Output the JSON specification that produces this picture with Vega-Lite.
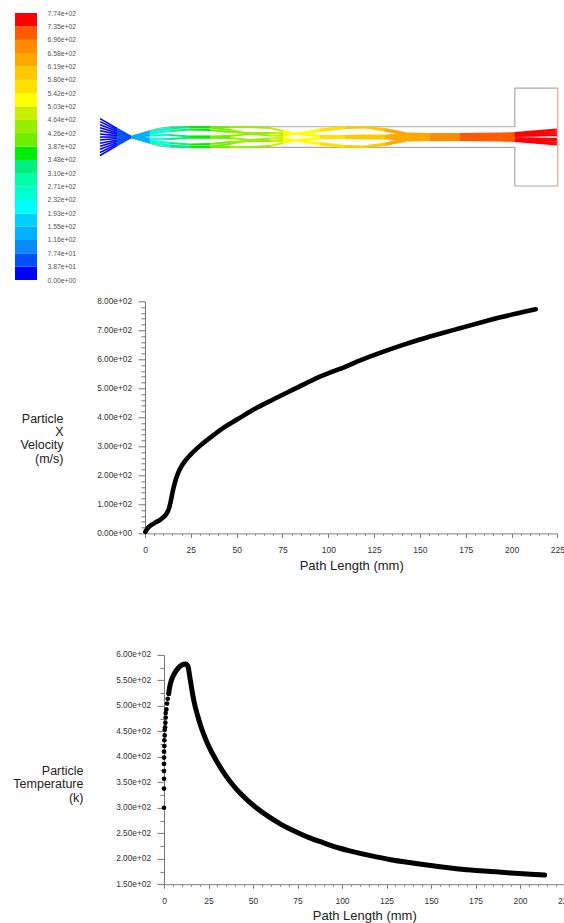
{
"$schema":"https://vega.github.io/schema/vega-lite/v6.json",
"padding":{"left":0,"top":10,"right":0,"bottom":0},
"background":"white",
"config":{"view":{"stroke":null},"font":"Liberation Sans","axis":{"labelFont":"Liberation Sans","titleFont":"Liberation Sans","grid":false}},
"datasets":{
"spacer":[{"s":1}],
"bands":[
{"v":0,"hi":38.7},{"v":38.7,"hi":77.4},{"v":77.4,"hi":116},{"v":116,"hi":155},{"v":155,"hi":193},{"v":193,"hi":232},{"v":232,"hi":271},{"v":271,"hi":310},{"v":310,"hi":348},{"v":348,"hi":387},{"v":387,"hi":426},{"v":426,"hi":464},{"v":464,"hi":503},{"v":503,"hi":542},{"v":542,"hi":580},{"v":580,"hi":619},{"v":619,"hi":658},{"v":658,"hi":696},{"v":696,"hi":735},{"v":735,"hi":774}],
"fan":[
{"x":0,"v":20,"a":8.6,"b":7.2,"c":5.7,"d":4.3,"e":2.9,"f":1.4,"g":0,"h":-1.4,"i":-2.9,"j":-4.3,"k":-5.7,"l":-7.2,"m":-8.6},
{"x":7.9,"v":60,"a":4.0,"b":3.35,"c":2.66,"d":2.0,"e":1.35,"f":0.65,"g":0,"h":-0.65,"i":-1.35,"j":-2.0,"k":-2.66,"l":-3.35,"m":-4.0},
{"x":14.8,"v":100,"a":0,"b":0,"c":0,"d":0,"e":0,"f":0,"g":0,"h":0,"i":0,"j":0,"k":0,"l":0,"m":0}],
"rays":[
{"x":14.8,"v":125,"a":0,"b":0,"c":0,"d":0,"e":0,"f":0,"g":0,"h":0},
{"x":23.3,"v":262,"a":2.33,"b":2.56,"c":1.63,"d":0.7,"e":-2.33,"f":-2.56,"g":-1.63,"h":-0.7},
{"x":32.6,"v":315,"a":3.96,"b":4.19,"c":2.8,"d":0.93,"e":-3.96,"f":-4.19,"g":-2.8,"h":-0.93},
{"x":41.9,"v":355,"a":4.66,"b":4.66,"c":3.5,"d":0.3,"e":-4.66,"f":-4.66,"g":-3.5,"h":-0.3},
{"x":51.3,"v":397,"a":4.43,"b":4.66,"c":3.26,"d":0.3,"e":-4.43,"f":-4.66,"g":-3.26,"h":-0.3},
{"x":60.6,"v":430,"a":3.26,"b":4.66,"c":2.33,"d":0.47,"e":-3.26,"f":-4.66,"g":-2.33,"h":-0.47},
{"x":69.9,"v":462,"a":1.4,"b":4.66,"c":1.86,"d":1.4,"e":-1.4,"f":-4.66,"g":-1.86,"h":-1.4},
{"x":79.2,"v":492,"a":0.7,"b":4.19,"c":1.86,"d":1.86,"e":-0.7,"f":-4.19,"g":-1.86,"h":-1.86},
{"x":85.3,"v":510,"a":0.47,"b":2.8,"c":1.4,"d":1.86,"e":-0.47,"f":-2.8,"g":-1.4,"h":-1.86},
{"x":93.2,"v":532,"a":1.86,"b":1.17,"c":1.4,"d":1.4,"e":-1.86,"f":-1.17,"g":-1.4,"h":-1.4},
{"x":102.5,"v":558,"a":3.5,"b":0.47,"c":2.8,"d":0.47,"e":-3.5,"f":-0.47,"g":-2.8,"h":-0.47},
{"x":114.2,"v":588,"a":4.66,"b":0.47,"c":4.19,"d":0.2,"e":-4.66,"f":-0.47,"g":-4.19,"h":-0.2},
{"x":123.5,"v":612,"a":4.66,"b":0.7,"c":4.43,"d":0.2,"e":-4.66,"f":-0.7,"g":-4.43,"h":-0.2},
{"x":132.8,"v":633,"a":3.73,"b":0.7,"c":3.03,"d":0.2,"e":-3.73,"f":-0.7,"g":-3.03,"h":-0.2},
{"x":143,"v":655,"a":1.63,"b":1.2,"c":0.8,"d":0.4,"e":-1.63,"f":-1.2,"g":-0.8,"h":-0.4},
{"x":153.8,"v":675,"a":1.4,"b":1.05,"c":0.7,"d":0.35,"e":-1.4,"f":-1.05,"g":-0.7,"h":-0.35},
{"x":167.7,"v":700,"a":1.4,"b":1.05,"c":0.7,"d":0.35,"e":-1.4,"f":-1.05,"g":-0.7,"h":-0.35},
{"x":186.3,"v":733,"a":1.63,"b":1.2,"c":0.8,"d":0.4,"e":-1.63,"f":-1.2,"g":-0.8,"h":-0.4},
{"x":193.3,"v":747,"a":1.86,"b":1.4,"c":0.93,"d":0.47,"e":-1.86,"f":-1.4,"g":-0.93,"h":-0.47},
{"x":212.9,"v":772,"a":3.5,"b":2.6,"c":1.7,"d":0.85,"e":-3.5,"f":-2.6,"g":-1.7,"h":-0.85}],
"walls":[
{"w":"top","o":0,"x":14.8,"r":0.5},{"w":"top","o":1,"x":18.7,"r":1.6},{"w":"top","o":2,"x":23.3,"r":3.0},{"w":"top","o":3,"x":28,"r":4.2},{"w":"top","o":4,"x":32.6,"r":4.7},{"w":"top","o":5,"x":37,"r":4.8},{"w":"top","o":6,"x":193.3,"r":4.8},{"w":"top","o":7,"x":193.3,"r":22.8},{"w":"top","o":8,"x":213.3,"r":22.8},
{"w":"bottom","o":0,"x":14.8,"r":-0.5},{"w":"bottom","o":1,"x":18.7,"r":-1.6},{"w":"bottom","o":2,"x":23.3,"r":-3.0},{"w":"bottom","o":3,"x":28,"r":-4.2},{"w":"bottom","o":4,"x":32.6,"r":-4.7},{"w":"bottom","o":5,"x":37,"r":-4.8},{"w":"bottom","o":6,"x":193.3,"r":-4.8},{"w":"bottom","o":7,"x":193.3,"r":-22.8},{"w":"bottom","o":8,"x":213.3,"r":-22.8}],
"outlet":[{"w":"exit","o":0,"x":213.3,"r":22.8},{"w":"exit","o":1,"x":213.3,"r":-22.8}],
"velocity":[
{"x":0.2,"y":5.5},{"x":1.66,"y":19},{"x":4.9,"y":34.5},{"x":8.6,"y":48},{"x":11.5,"y":65.5},{"x":13.1,"y":86},{"x":14,"y":109},{"x":14.9,"y":138},{"x":16.2,"y":172},{"x":18,"y":207},{"x":20.9,"y":241},{"x":25,"y":272},{"x":30.4,"y":304},{"x":37.7,"y":340},{"x":43.1,"y":365},{"x":50.4,"y":393},{"x":59.5,"y":428},{"x":70.4,"y":463},{"x":81.3,"y":497},{"x":92.2,"y":531},{"x":103,"y":559},{"x":106.8,"y":568},{"x":117.7,"y":597},{"x":128.6,"y":623},{"x":139.6,"y":647},{"x":150.5,"y":669},{"x":161.4,"y":689},{"x":172.3,"y":708},{"x":183.2,"y":727},{"x":194,"y":745},{"x":205,"y":761},{"x":213.2,"y":772.5}],
"tdots":[
{"x":0,"y":300},{"x":0,"y":337.6},{"x":0,"y":357},{"x":0,"y":372},{"x":0,"y":386},{"x":0.02,"y":398.5},{"x":0.02,"y":410},{"x":0.2,"y":421},{"x":0.2,"y":432.5},{"x":0.4,"y":442},{"x":0.4,"y":453},{"x":0.58,"y":458},{"x":0.77,"y":467},{"x":0.95,"y":477},{"x":0.95,"y":486},{"x":1.33,"y":493},{"x":1.7,"y":504.5},{"x":2.08,"y":514},{"x":2.64,"y":524}],
"tcurve":[
{"x":2.64,"y":524},{"x":3.2,"y":537},{"x":4.33,"y":552},{"x":5.8,"y":563},{"x":7.7,"y":573},{"x":10,"y":580},{"x":12.2,"y":582},{"x":13.5,"y":577},{"x":14.4,"y":559},{"x":15.6,"y":533},{"x":16.9,"y":508},{"x":18.7,"y":483},{"x":20.6,"y":461},{"x":23.4,"y":434.5},{"x":26.2,"y":413},{"x":30,"y":389},{"x":34.7,"y":363},{"x":40.3,"y":338},{"x":45.9,"y":318},{"x":51.5,"y":301},{"x":59,"y":282},{"x":66.5,"y":266},{"x":74,"y":253},{"x":81.5,"y":241.5},{"x":89,"y":232},{"x":98.3,"y":221},{"x":104.9,"y":215},{"x":116,"y":206},{"x":127.4,"y":198},{"x":138.6,"y":192},{"x":149.8,"y":186.6},{"x":161,"y":182},{"x":172.3,"y":178},{"x":183.5,"y":175},{"x":194.8,"y":172},{"x":206,"y":169.5},{"x":213.9,"y":168}]
},
"vconcat":[
{"hconcat":[
 {"width":15,"height":1,"data":{"name":"spacer"},"mark":{"type":"rect","opacity":0}},
 {"width":22,"height":267,"data":{"name":"bands"},"mark":{"type":"rect"},
  "encoding":{
   "y":{"field":"v","type":"quantitative","scale":{"domain":[0,774],"nice":false,"zero":false},
    "axis":{"orient":"right","title":null,"domain":false,"ticks":false,"labelPadding":10,"labelFontSize":6.8,"labelColor":"#555","labelOverlap":false,"labelFlush":false,
     "values":[0,38.7,77.4,116,155,193,232,271,310,348,387,426,464,503,542,580,619,658,696,735,774],
     "labelExpr":"replace(format(datum.value,'.2e'),'e+','e+0')"}},
   "y2":{"field":"hi"},
   "color":{"field":"v","type":"quantitative","legend":null,"scale":{"type":"threshold","domain":[38.7,77.4,116,155,193,232,271,310,348,387,426,464,503,542,580,619,658,696,735],"range":["#0000ff","#0050ff","#0a8aff","#00b0ff","#00d0ff","#00ffff","#00ffd0","#00ffa8","#00f080","#00ee00","#70ee00","#98ee00","#c8ee00","#ffff00","#ffe000","#ffc800","#ffa800","#ff8c00","#ff5a00","#ff0000"]}}
  }},
 {"width":63,"height":1,"data":{"name":"spacer"},"mark":{"type":"rect","opacity":0}},
 {"width":458,"height":267,
  "layer":[
   {"data":{"name":"walls"},"mark":{"type":"line","color":"#aaaaaa","strokeWidth":1.2},
    "encoding":{"x":{"field":"x","type":"quantitative","scale":{"domain":[0,213.4],"nice":false,"zero":false},"axis":null},
     "y":{"field":"r","type":"quantitative","scale":{"domain":[-66.6,57.8],"nice":false,"zero":false},"axis":null},
     "detail":{"field":"w"},"order":{"field":"o"}}},
   {"data":{"name":"outlet"},"mark":{"type":"line","color":"#ee8888","strokeWidth":1},
    "encoding":{"x":{"field":"x","type":"quantitative"},"y":{"field":"r","type":"quantitative"},"order":{"field":"o"}}},
   {"data":{"name":"fan"},
    "transform":[{"fold":["a","b","c","d","e","f","g","h","i","j","k","l","m"],"as":["ray","r"]},
     {"window":[{"op":"lead","field":"x","as":"xn"},{"op":"lead","field":"r","as":"rn"}],"sort":[{"field":"x"}],"groupby":["ray"]},
     {"filter":"isValid(datum.xn)"}],
    "mark":{"type":"rule","strokeWidth":1.6},
    "encoding":{"x":{"field":"x","type":"quantitative"},"x2":{"field":"xn"},"y":{"field":"r","type":"quantitative"},"y2":{"field":"rn"},
     "color":{"field":"v","type":"quantitative","legend":null,"scale":{"type":"threshold","domain":[38.7,77.4,116,155,193,232,271,310,348,387,426,464,503,542,580,619,658,696,735],"range":["#2010d8","#0050ff","#0a8aff","#00b0ff","#00d0ff","#00ffff","#00ffd0","#00ffa8","#00f080","#00ee00","#70ee00","#98ee00","#c8ee00","#ffff00","#ffe000","#ffc800","#ffa800","#ff8c00","#ff5a00","#ff0000"]}}}},
   {"data":{"name":"rays"},
    "transform":[{"fold":["a","b","c","d","e","f","g","h"],"as":["ray","r"]},
     {"window":[{"op":"lead","field":"x","as":"xn"},{"op":"lead","field":"r","as":"rn"}],"sort":[{"field":"x"}],"groupby":["ray"]},
     {"filter":"isValid(datum.xn)"}],
    "mark":{"type":"rule","strokeWidth":2},
    "encoding":{"x":{"field":"x","type":"quantitative"},"x2":{"field":"xn"},"y":{"field":"r","type":"quantitative"},"y2":{"field":"rn"},
     "color":{"field":"v","type":"quantitative","legend":null,"scale":{"type":"threshold","domain":[38.7,77.4,116,155,193,232,271,310,348,387,426,464,503,542,580,619,658,696,735],"range":["#2010d8","#0050ff","#0a8aff","#00b0ff","#00d0ff","#00ffff","#00ffd0","#00ffa8","#00f080","#00ee00","#70ee00","#98ee00","#c8ee00","#ffff00","#ffe000","#ffc800","#ffa800","#ff8c00","#ff5a00","#ff0000"]}}}}
  ]}
],"spacing":0,"bounds":"flush","center":false},
{"hconcat":[
 {"width":144.3,"height":1,"data":{"name":"spacer"},"mark":{"type":"rect","opacity":0}},
 {"width":412.4,"height":232,"data":{"name":"velocity"},
  "mark":{"type":"line","color":"black","strokeWidth":4.6,"interpolate":"monotone","strokeCap":"round","strokeJoin":"round"},
  "encoding":{
   "x":{"field":"x","type":"quantitative","scale":{"domain":[0,225],"nice":false,"zero":false},
    "axis":{"title":"Path Length (mm)","titleFontSize":13,"titleFontWeight":"normal","titleColor":"#222","titleY":36,"titleBaseline":"alphabetic",
     "values":[0,5,10,15,20,25,30,35,40,45,50,55,60,65,70,75,80,85,90,95,100,105,110,115,120,125,130,135,140,145,150,155,160,165,170,175,180,185,190,195,200,205,210,215,220,225],
     "labelExpr":"datum.value % 25 === 0 ? datum.value : ''","labelFontSize":8.5,"labelColor":"#333","labelPadding":8,"labelOverlap":false,"labelFlush":false,"domainColor":"#999","domainWidth":1.2,"tickColor":"#777",
     "tickSize":{"expr":"datum.value % 25 === 0 ? 4 : 2"}}},
   "y":{"field":"y","type":"quantitative","scale":{"domain":[0,800],"nice":false,"zero":false},
    "axis":{"title":["Particle","X","Velocity","(m/s)"],"titleFontSize":12.5,"titleFontWeight":"normal","titleColor":"#222","titleAngle":0,"titleAlign":"right","titleBaseline":"alphabetic","titleX":-82,"titleY":121,"titleLineHeight":13.3,
     "values":[0,20,40,60,80,100,120,140,160,180,200,220,240,260,280,300,320,340,360,380,400,420,440,460,480,500,520,540,560,580,600,620,640,660,680,700,720,740,760,780,800],
     "labelExpr":"datum.value % 100 === 0 ? replace(format(datum.value,'.2e'),'e+','e+0') : ''","labelFontSize":8.3,"labelColor":"#333","labelPadding":6.5,"labelOverlap":false,"labelFlush":false,"domainColor":"#777","tickColor":"#777",
     "tickSize":{"expr":"datum.value % 100 === 0 ? 7 : 4"}}}
  }}
],"spacing":0,"bounds":"flush","center":false},
{"width":10,"height":52.1,"data":{"name":"spacer"},"mark":{"type":"rect","opacity":0}},
{"hconcat":[
 {"width":163.3,"height":1,"data":{"name":"spacer"},"mark":{"type":"rect","opacity":0}},
 {"width":400.5,"height":229.3,
  "encoding":{
   "x":{"field":"x","type":"quantitative","scale":{"domain":[0,225],"nice":false,"zero":false},
    "axis":{"title":"Path Length (mm)","titleFontSize":13,"titleFontWeight":"normal","titleColor":"#222","titleY":35,"titleBaseline":"alphabetic",
     "values":[0,5,10,15,20,25,30,35,40,45,50,55,60,65,70,75,80,85,90,95,100,105,110,115,120,125,130,135,140,145,150,155,160,165,170,175,180,185,190,195,200,205,210,215,220,225],
     "labelExpr":"datum.value % 25 === 0 ? datum.value : ''","labelFontSize":8.5,"labelColor":"#333","labelPadding":8,"labelOverlap":false,"labelFlush":false,"domainColor":"#999","domainWidth":1.2,"tickColor":"#777",
     "tickSize":{"expr":"datum.value % 25 === 0 ? 4 : 2"}}},
   "y":{"field":"y","type":"quantitative","scale":{"domain":[150,600],"nice":false,"zero":false},
    "axis":{"title":["Particle","Temperature","(k)"],"titleFontSize":12.5,"titleFontWeight":"normal","titleColor":"#222","titleAngle":0,"titleAlign":"right","titleBaseline":"alphabetic","titleX":-81,"titleY":119.3,"titleLineHeight":13.7,
     "values":[150,175,200,225,250,275,300,325,350,375,400,425,450,475,500,525,550,575,600],
     "labelExpr":"datum.value % 50 === 0 ? replace(format(datum.value,'.2e'),'e+','e+0') : ''","labelFontSize":8.3,"labelColor":"#333","labelPadding":6.5,"labelOverlap":false,"labelFlush":false,"domainColor":"#777","tickColor":"#777",
     "tickSize":{"expr":"datum.value % 50 === 0 ? 7 : 4"}}}
  },
  "layer":[
   {"data":{"name":"tdots"},"mark":{"type":"point","filled":true,"color":"black","size":22,"opacity":1}},
   {"data":{"name":"tcurve"},"mark":{"type":"line","color":"black","strokeWidth":5,"interpolate":"monotone","strokeCap":"round","strokeJoin":"round"}}
  ]}
],"spacing":0,"bounds":"flush","center":false}
],
"spacing":12.3,"bounds":"full","center":false
}
